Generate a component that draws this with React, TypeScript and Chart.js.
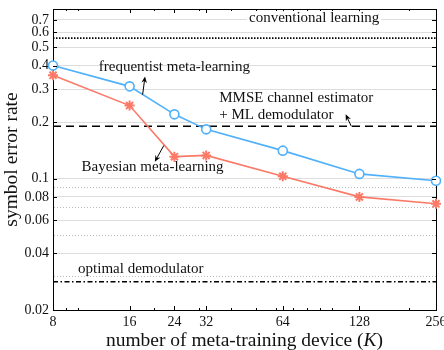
import { useEffect, useRef } from "react";
import { Chart, registerables } from "chart.js";

Chart.register(...registerables);

// Symbol error rate versus number of meta-training devices
const deviceCounts = [8, 16, 24, 32, 64, 128, 256];
const frequentistSER = [0.4, 0.31, 0.22, 0.183, 0.141, 0.106, 0.0975];
const bayesianSER = [0.355, 0.245, 0.131, 0.133, 0.103, 0.08, 0.0735];

// Reference baselines (independent of K)
const conventionalSER = 0.56;
const mmseSER = 0.19;
const optimalSER = 0.0283;

// Axis ticks
const xTicks = [8, 16, 24, 32, 64, 128, 256];
const xMinorTicks = [9, 10, 20, 30, 40, 50, 60, 70, 80, 90, 100, 200];
const yTicks = [0.02, 0.04, 0.06, 0.08, 0.1, 0.2, 0.3, 0.4, 0.5, 0.6, 0.7];
const yDottedGrid = [0.03, 0.05, 0.07, 0.09];

// Text annotations, placed in data coordinates
const textLabels = [
  { text: "conventional learning", x: 85, y: 0.715, align: "center", boxed: true },
  { text: "frequentist meta-learning", x: 24, y: 0.395, align: "center", boxed: false },
  { text: "MMSE channel estimator", x: 36, y: 0.268, align: "left", boxed: false },
  { text: "+ ML demodulator", x: 36, y: 0.218, align: "left", boxed: false },
  { text: "Bayesian meta-learning", x: 19.7, y: 0.116, align: "center", boxed: false },
  { text: "optimal demodulator", x: 17.7, y: 0.033, align: "center", boxed: false },
];
const arrows = [
  { from: [18.0, 0.28], to: [18.4, 0.35] },
  { from: [119, 0.19], to: [113, 0.22] },
  { from: [21.8, 0.15], to: [20.1, 0.123] },
];

const FONT = '"Liberation Serif", "Times New Roman", serif';
const BLUE = "#4fb0fb";
const RED = "#fb7a67";

const allYGrid = [...yTicks, ...yDottedGrid].sort((a, b) => a - b);

function drawArrow(ctx: CanvasRenderingContext2D, x1: number, y1: number, x2: number, y2: number) {
  const ang = Math.atan2(y2 - y1, x2 - x1);
  const len = 6.5;
  const w = 2.8;
  const c = Math.cos(ang);
  const s = Math.sin(ang);
  ctx.beginPath();
  ctx.moveTo(x1, y1);
  ctx.lineTo(x2 - c * len * 0.6, y2 - s * len * 0.6);
  ctx.stroke();
  ctx.beginPath();
  ctx.moveTo(x2, y2);
  ctx.lineTo(x2 - len * c + w * s, y2 - len * s - w * c);
  ctx.lineTo(x2 - len * 0.65 * c, y2 - len * 0.65 * s);
  ctx.lineTo(x2 - len * c - w * s, y2 - len * s + w * c);
  ctx.closePath();
  ctx.fill();
}

const overlayPlugin = {
  id: "overlay",
  afterDraw(chart: any) {
    const { ctx, chartArea } = chart;
    const xs = chart.scales.x;
    const ys = chart.scales.y;
    ctx.save();

    // inward tick marks on all four sides of the frame
    ctx.strokeStyle = "#000";
    ctx.lineWidth = 1;
    const seg = (x1: number, y1: number, x2: number, y2: number) => {
      ctx.beginPath();
      ctx.moveTo(x1, y1);
      ctx.lineTo(x2, y2);
      ctx.stroke();
    };
    for (const v of xTicks.slice(1, -1)) {
      const px = Math.round(xs.getPixelForValue(v)) + 0.5;
      seg(px, chartArea.bottom, px, chartArea.bottom - 4);
      seg(px, chartArea.top, px, chartArea.top + 4);
    }
    for (const v of xMinorTicks) {
      const px = Math.round(xs.getPixelForValue(v)) + 0.5;
      seg(px, chartArea.bottom, px, chartArea.bottom - 2);
      seg(px, chartArea.top, px, chartArea.top + 2);
    }
    for (const v of yTicks.slice(1)) {
      const py = Math.round(ys.getPixelForValue(v)) + 0.5;
      seg(chartArea.left, py, chartArea.left + 4, py);
      seg(chartArea.right, py, chartArea.right - 4, py);
    }

    // annotations
    ctx.font = `15px ${FONT}`;
    ctx.textBaseline = "middle";
    for (const t of textLabels) {
      const px = xs.getPixelForValue(t.x);
      const py = ys.getPixelForValue(t.y);
      const w = ctx.measureText(t.text).width;
      const left = t.align === "center" ? px - w / 2 : px;
      if (t.boxed) {
        ctx.fillStyle = "#fff";
        ctx.fillRect(left - 2, py - 7, w + 4, 14);
      }
      ctx.fillStyle = "#111";
      ctx.textAlign = "left";
      ctx.fillText(t.text, left, py);
    }

    ctx.strokeStyle = "#000";
    ctx.fillStyle = "#000";
    ctx.lineWidth = 1;
    for (const a of arrows) {
      drawArrow(
        ctx,
        xs.getPixelForValue(a.from[0]),
        ys.getPixelForValue(a.from[1]),
        xs.getPixelForValue(a.to[0]),
        ys.getPixelForValue(a.to[1])
      );
    }

    // x-axis title with italic K
    const parts = [
      { s: "number of meta-training device (", f: `19.5px ${FONT}` },
      { s: "K", f: `italic 19.5px ${FONT}` },
      { s: ")", f: `19.5px ${FONT}` },
    ];
    let total = 0;
    const widths = parts.map((p) => {
      ctx.font = p.f;
      const w = ctx.measureText(p.s).width;
      total += w;
      return w;
    });
    let cx = (chartArea.left + chartArea.right) / 2 - total / 2;
    const baseY = chart.height - 4;
    ctx.fillStyle = "#111";
    ctx.textAlign = "left";
    ctx.textBaseline = "alphabetic";
    parts.forEach((p, i) => {
      ctx.font = p.f;
      ctx.fillText(p.s, cx, baseY);
      cx += widths[i];
    });

    ctx.restore();
  },
};

export default function App() {
  const canvasRef = useRef<HTMLCanvasElement | null>(null);

  useEffect(() => {
    if (!canvasRef.current) return;
    const pts = (ys: number[]) => deviceCounts.map((x, i) => ({ x, y: ys[i] }));
    const flat = (y: number) => [
      { x: deviceCounts[0], y },
      { x: deviceCounts[deviceCounts.length - 1], y },
    ];

    const chart = new Chart(canvasRef.current, {
      type: "line",
      data: {
        datasets: [
          {
            label: "frequentist meta-learning",
            data: pts(frequentistSER),
            borderColor: BLUE,
            backgroundColor: "#fff",
            borderWidth: 1.6,
            pointStyle: "circle",
            pointRadius: 4.5,
            pointBorderWidth: 1.6,
            pointBorderColor: BLUE,
            pointBackgroundColor: "#fff",
            clip: false,
          },
          {
            label: "Bayesian meta-learning",
            data: pts(bayesianSER),
            borderColor: RED,
            backgroundColor: RED,
            borderWidth: 1.6,
            pointStyle: "star",
            pointRadius: 5,
            pointBorderWidth: 2,
            pointBorderColor: RED,
            clip: false,
          },
          {
            label: "conventional learning",
            data: flat(conventionalSER),
            borderColor: "#000",
            borderWidth: 1.6,
            borderDash: [1.5, 1.5],
            pointRadius: 0,
          },
          {
            label: "MMSE channel estimator + ML demodulator",
            data: flat(mmseSER),
            borderColor: "#000",
            borderWidth: 1.6,
            borderDash: [8, 5],
            pointRadius: 0,
          },
          {
            label: "optimal demodulator",
            data: flat(optimalSER),
            borderColor: "#000",
            borderWidth: 1.6,
            borderDash: [5, 2.5, 1.5, 2.5],
            pointRadius: 0,
          },
        ],
      },
      options: {
        responsive: false,
        animation: false,
        layout: { padding: 0 },
        plugins: {
          legend: { display: false },
          tooltip: { enabled: false },
        },
        scales: {
          x: {
            type: "logarithmic",
            position: "bottom",
            min: 8,
            max: 256,
            bounds: "data",
            grid: { display: false, drawTicks: false },
            border: { display: true, color: "#000", width: 1 },
            ticks: {
              autoSkip: false,
              maxRotation: 0,
              padding: 4,
              color: "#111",
              font: { family: FONT, size: 14 },
              callback: (v: any) => String(v),
            },
            afterBuildTicks: (scale: any) => {
              scale.ticks = xTicks.map((value) => ({ value }));
            },
            afterFit: (scale: any) => {
              scale.height = 40;
              scale.paddingLeft = 0;
              scale.paddingRight = 0;
            },
          },
          x2: {
            type: "linear",
            position: "top",
            min: 0,
            max: 1,
            grid: { display: false, drawTicks: false },
            border: { display: true, color: "#000", width: 1 },
            ticks: { display: false },
            afterFit: (scale: any) => {
              scale.height = 9;
              scale.paddingLeft = 0;
              scale.paddingRight = 0;
            },
          },
          y: {
            type: "logarithmic",
            position: "left",
            min: 0.02,
            max: 0.8,
            bounds: "data",
            grid: {
              drawTicks: false,
              lineWidth: 1,
              color: (c: any) =>
                c.tick && yDottedGrid.includes(c.tick.value) ? "#bcbcbc" : "#dddddd",
            },
            border: {
              display: true,
              color: "#000",
              width: 1,
              dash: (c: any) => (c.tick && yDottedGrid.includes(c.tick.value) ? [1, 2] : []),
            },
            ticks: {
              autoSkip: false,
              padding: 4,
              color: "#111",
              font: { family: FONT, size: 14 },
              callback: (v: any) => (yTicks.includes(v) ? String(v) : ""),
            },
            afterBuildTicks: (scale: any) => {
              scale.ticks = allYGrid.map((value) => ({ value }));
            },
            title: {
              display: true,
              text: "symbol error rate",
              color: "#111",
              font: { family: FONT, size: 19.5, lineHeight: 1 },
              padding: { top: 2, bottom: 0 },
            },
            afterFit: (scale: any) => {
              scale.width = 53;
              scale.paddingTop = 0;
              scale.paddingBottom = 0;
            },
          },
          y2: {
            type: "linear",
            position: "right",
            min: 0,
            max: 1,
            grid: { display: false, drawTicks: false },
            border: { display: true, color: "#000", width: 1 },
            ticks: { display: false },
            afterFit: (scale: any) => {
              scale.width = 8;
              scale.paddingTop = 0;
              scale.paddingBottom = 0;
            },
          },
        },
      },
      plugins: [overlayPlugin],
    });

    return () => chart.destroy();
  }, []);

  return (
    <div style={{ position: "fixed", left: 0, top: 0, width: 444, height: 350, background: "#fff" }}>
      <canvas ref={canvasRef} width={444} height={350} style={{ display: "block" }} />
    </div>
  );
}
